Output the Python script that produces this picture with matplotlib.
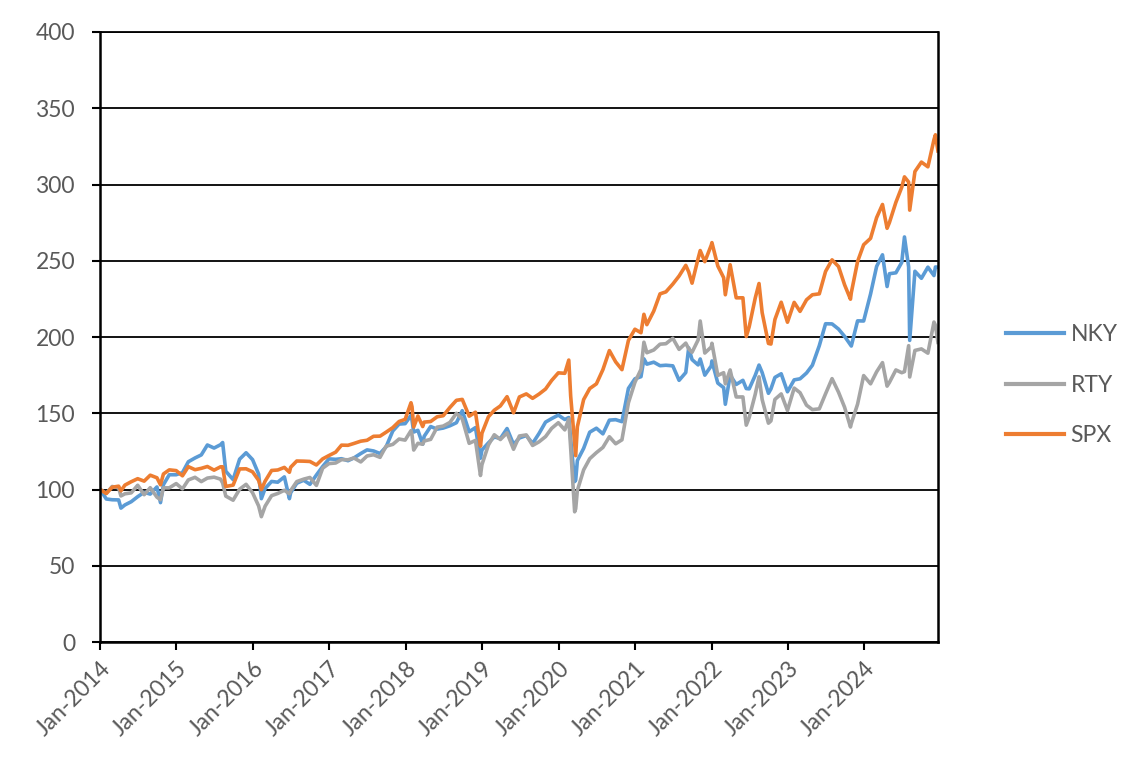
import matplotlib
matplotlib.use("Agg")
import matplotlib.pyplot as plt
import matplotlib.dates as mdates
import pandas as pd

# index levels rebased to 100 at the start of 2014
dates = [
    "2014-01-02", "2014-01-31", "2014-02-28", "2014-03-31", "2014-04-11", "2014-04-30", "2014-05-30",
    "2014-06-30", "2014-07-31", "2014-08-29", "2014-09-30", "2014-10-17", "2014-10-31", "2014-11-28", "2014-12-31",
    "2015-01-30", "2015-02-27", "2015-03-31", "2015-04-30", "2015-05-29", "2015-06-30", "2015-07-31",
    "2015-08-10", "2015-08-25", "2015-09-29", "2015-10-30", "2015-11-30", "2015-12-31",
    "2016-01-29", "2016-02-11", "2016-02-29", "2016-03-31", "2016-04-29", "2016-05-31", "2016-06-24",
    "2016-06-30", "2016-07-29", "2016-08-31", "2016-09-30", "2016-10-31", "2016-11-30", "2016-12-30",
    "2017-01-31", "2017-02-28", "2017-03-31", "2017-04-28", "2017-05-31", "2017-06-30", "2017-07-31",
    "2017-08-31", "2017-09-29", "2017-10-31", "2017-11-30", "2017-12-29",
    "2018-01-26", "2018-01-31", "2018-02-08", "2018-02-28", "2018-03-23", "2018-03-30", "2018-04-30",
    "2018-05-31", "2018-06-29", "2018-07-31", "2018-08-31", "2018-09-28", "2018-10-31", "2018-11-30",
    "2018-12-24", "2018-12-31",
    "2019-01-31", "2019-02-28", "2019-03-29", "2019-04-30", "2019-05-31", "2019-06-28", "2019-07-31",
    "2019-08-30", "2019-09-30", "2019-10-31", "2019-11-29", "2019-12-31",
    "2020-01-31", "2020-02-19", "2020-02-28", "2020-03-18", "2020-03-23", "2020-03-31", "2020-04-30",
    "2020-05-29", "2020-06-30", "2020-07-31", "2020-08-31", "2020-09-30", "2020-10-30", "2020-11-30", "2020-12-31",
    "2021-01-29", "2021-02-12", "2021-02-26", "2021-03-31", "2021-04-30", "2021-05-28", "2021-06-30",
    "2021-07-30", "2021-08-31", "2021-09-14", "2021-09-30", "2021-10-29", "2021-11-08", "2021-11-30", "2021-12-31",
    "2022-01-03", "2022-01-31", "2022-02-28", "2022-03-08", "2022-03-31", "2022-04-29", "2022-05-31",
    "2022-06-16", "2022-06-30", "2022-07-29", "2022-08-16", "2022-08-31", "2022-09-30", "2022-10-12",
    "2022-10-31", "2022-11-30", "2022-12-30",
    "2023-01-31", "2023-02-28", "2023-03-31", "2023-04-28", "2023-05-31", "2023-06-30", "2023-07-31",
    "2023-08-31", "2023-09-29", "2023-10-27", "2023-10-31", "2023-11-30", "2023-12-29",
    "2024-01-31", "2024-02-29", "2024-03-28", "2024-04-19", "2024-04-30", "2024-05-31", "2024-06-28",
    "2024-07-11", "2024-07-31", "2024-08-05", "2024-08-30", "2024-09-30", "2024-10-31", "2024-11-29",
    "2024-12-06", "2024-12-18",
]

nky = [
    100, 93.8, 93.3, 93.2, 87.8, 89.9, 92.0, 95.3, 98.2, 97.0, 101.7, 91.4, 103.2, 109.7, 109.7,
    111.1, 118.2, 120.7, 122.7, 129.2, 127.2, 129.4, 130.8, 112.0, 106.5, 119.9, 124.1, 119.6,
    110.1, 94.0, 100.7, 105.3, 104.8, 108.3, 94.0, 97.9, 104.1, 106.1, 103.4, 109.5, 115.1, 120.1,
    119.8, 120.2, 118.9, 120.7, 123.6, 126.0, 125.3, 123.6, 128.0, 138.4, 142.9, 143.2,
    148.6, 145.3, 137.7, 138.8, 129.7, 134.9, 141.3, 139.6, 140.3, 141.8, 143.8, 151.7, 137.9, 140.6, 120.5, 125.9,
    130.6, 134.5, 133.4, 140.0, 129.6, 133.8, 135.4, 130.2, 136.8, 144.2, 146.5, 148.8,
    145.9, 147.2, 133.0, 105.2, 106.2, 119.0, 127.0, 137.6, 140.2, 136.5, 145.5, 145.8, 144.5, 166.3, 172.6,
    174.0, 185.7, 182.2, 183.5, 181.2, 181.5, 181.1, 171.6, 176.7, 192.9, 185.2, 181.7, 185.6, 175.0, 181.1,
    184.3, 169.8, 166.8, 155.9, 175.0, 168.9, 171.6, 166.2, 166.0, 174.9, 181.6, 176.7, 163.1, 166.0, 173.5, 175.9, 164.1,
    171.9, 172.6, 176.4, 181.5, 194.3, 208.7, 208.6, 205.2, 200.4, 194.9, 194.1, 210.6, 210.5,
    228.2, 246.3, 253.9, 233.1, 241.5, 242.1, 248.9, 265.6, 245.9, 197.8, 243.1, 238.5, 245.8, 240.3, 245.9, 245.8,
]

rty = [
    100, 97.5, 102.0, 101.1, 95.8, 97.2, 97.8, 102.8, 96.6, 101.2, 95.0, 93.3, 101.1, 101.1, 103.9,
    100.4, 106.3, 108.0, 105.2, 107.5, 108.1, 106.8, 104.3, 95.7, 93.0, 100.2, 103.4, 97.9,
    89.2, 82.2, 89.1, 96.0, 97.4, 99.5, 97.2, 99.3, 105.2, 106.8, 107.9, 102.7, 114.0, 117.0,
    117.4, 119.6, 119.5, 120.7, 118.1, 122.0, 122.8, 121.1, 128.4, 129.6, 133.1, 132.4,
    138.6, 135.8, 125.9, 130.3, 129.7, 131.8, 132.9, 140.9, 141.6, 144.0, 150.0, 146.3, 130.3, 132.2, 109.2, 116.3,
    129.2, 135.9, 132.8, 137.2, 126.4, 135.1, 135.8, 128.9, 131.3, 134.7, 140.1, 143.8,
    139.1, 146.2, 127.2, 85.4, 87.4, 99.4, 112.9, 120.2, 124.2, 127.6, 134.6, 130.0, 132.6, 156.9, 170.3,
    178.8, 196.6, 189.7, 191.5, 195.3, 195.6, 199.2, 191.9, 196.0, 192.2, 190.0, 198.1, 210.5, 189.5, 193.5,
    195.9, 174.8, 176.6, 169.3, 178.4, 160.7, 160.7, 142.2, 147.2, 162.5, 173.9, 159.0, 143.5, 145.0, 159.1, 162.7, 151.8,
    166.5, 163.5, 155.3, 152.4, 152.9, 162.8, 172.7, 163.8, 153.9, 141.0, 143.3, 156.0, 174.7,
    169.3, 177.2, 183.2, 167.8, 170.2, 178.4, 176.6, 177.3, 194.3, 173.8, 191.2, 192.2, 189.4, 209.8, 207.7, 196.5,
]

spx = [
    100, 97.4, 101.5, 102.2, 99.1, 102.9, 105.1, 107.1, 105.5, 109.4, 107.7, 103.1, 110.2, 112.9, 112.4,
    109.0, 115.0, 113.0, 113.9, 115.1, 112.7, 114.9, 114.9, 102.0, 102.9, 113.5, 113.6, 111.6,
    106.0, 99.9, 105.5, 112.5, 112.8, 114.5, 111.3, 114.6, 118.7, 118.6, 118.4, 116.1, 120.1, 122.3,
    124.5, 129.1, 129.0, 130.2, 131.7, 132.3, 134.9, 135.0, 137.6, 140.6, 144.6, 146.0,
    156.9, 154.2, 141.0, 148.2, 141.3, 144.2, 144.6, 147.7, 148.4, 153.8, 158.5, 159.1, 148.1, 150.7, 128.4, 136.9,
    147.7, 152.0, 154.8, 160.9, 150.3, 160.7, 162.7, 159.8, 162.6, 165.9, 171.5, 176.5,
    176.2, 184.9, 161.3, 131.0, 122.2, 141.2, 159.0, 166.2, 169.3, 178.6, 191.1, 183.7, 178.6, 197.8, 205.1,
    202.8, 214.9, 208.1, 217.0, 228.3, 229.6, 234.7, 240.0, 247.0, 242.7, 235.3, 251.5, 256.7, 249.4, 260.3,
    261.9, 246.6, 238.9, 227.7, 247.4, 225.7, 225.7, 200.3, 206.7, 225.6, 235.1, 216.0, 195.8, 195.4, 211.5, 222.8, 209.7,
    222.7, 216.8, 224.4, 227.7, 228.3, 243.0, 250.6, 246.2, 234.2, 224.8, 229.0, 249.5, 260.5,
    264.7, 278.3, 286.9, 271.3, 275.0, 288.3, 298.2, 305.0, 301.6, 283.2, 308.5, 314.7, 311.6, 329.4, 332.6, 322.0,
]

df = pd.DataFrame({"NKY": nky, "RTY": rty, "SPX": spx}, index=pd.to_datetime(dates))
colors = {"NKY": "#5B9BD5", "RTY": "#A5A5A5", "SPX": "#ED7D31"}

plt.rcParams["font.family"] = ["Lato", "DejaVu Sans"]
txt = "#595959"

fig = plt.figure(figsize=(11.43, 7.69), dpi=100)
ax = fig.add_axes([0.0875, 0.1651, 0.7331, 0.7933])

for name in ["NKY", "RTY", "SPX"]:
    ax.plot(df.index, df[name], color=colors[name], lw=2.6, label=name)

ax.set_ylim(0, 400)
ax.set_yticks(range(0, 401, 50))
ax.set_xlim(pd.Timestamp("2014-01-01"), pd.Timestamp("2024-12-18"))
ax.xaxis.set_major_locator(mdates.YearLocator(month=1, day=1))
ax.xaxis.set_major_formatter(mdates.DateFormatter("%b-%Y"))
ax.grid(axis="y", color="black", lw=1.3)
ax.set_axisbelow(True)

for s in ax.spines.values():
    s.set_color("black")
    s.set_linewidth(1.8)
ax.spines["top"].set_linewidth(1.3)

ax.tick_params(axis="both", direction="out", length=6, width=1.5, color="black",
               labelcolor=txt, labelsize=16.5)
ax.tick_params(axis="y", pad=12)
ax.tick_params(axis="x", pad=5)
plt.setp(ax.get_xticklabels(), rotation=45, ha="right", rotation_mode="anchor")

leg = ax.legend(loc="center left", bbox_to_anchor=(1.057, 0.421), frameon=False,
                fontsize=16.5, labelcolor=txt, handlelength=2.5, labelspacing=1.3,
                handletextpad=0.3)
for h in leg.get_lines():
    h.set_linewidth(3)

fig.savefig("out.png", dpi=100)
